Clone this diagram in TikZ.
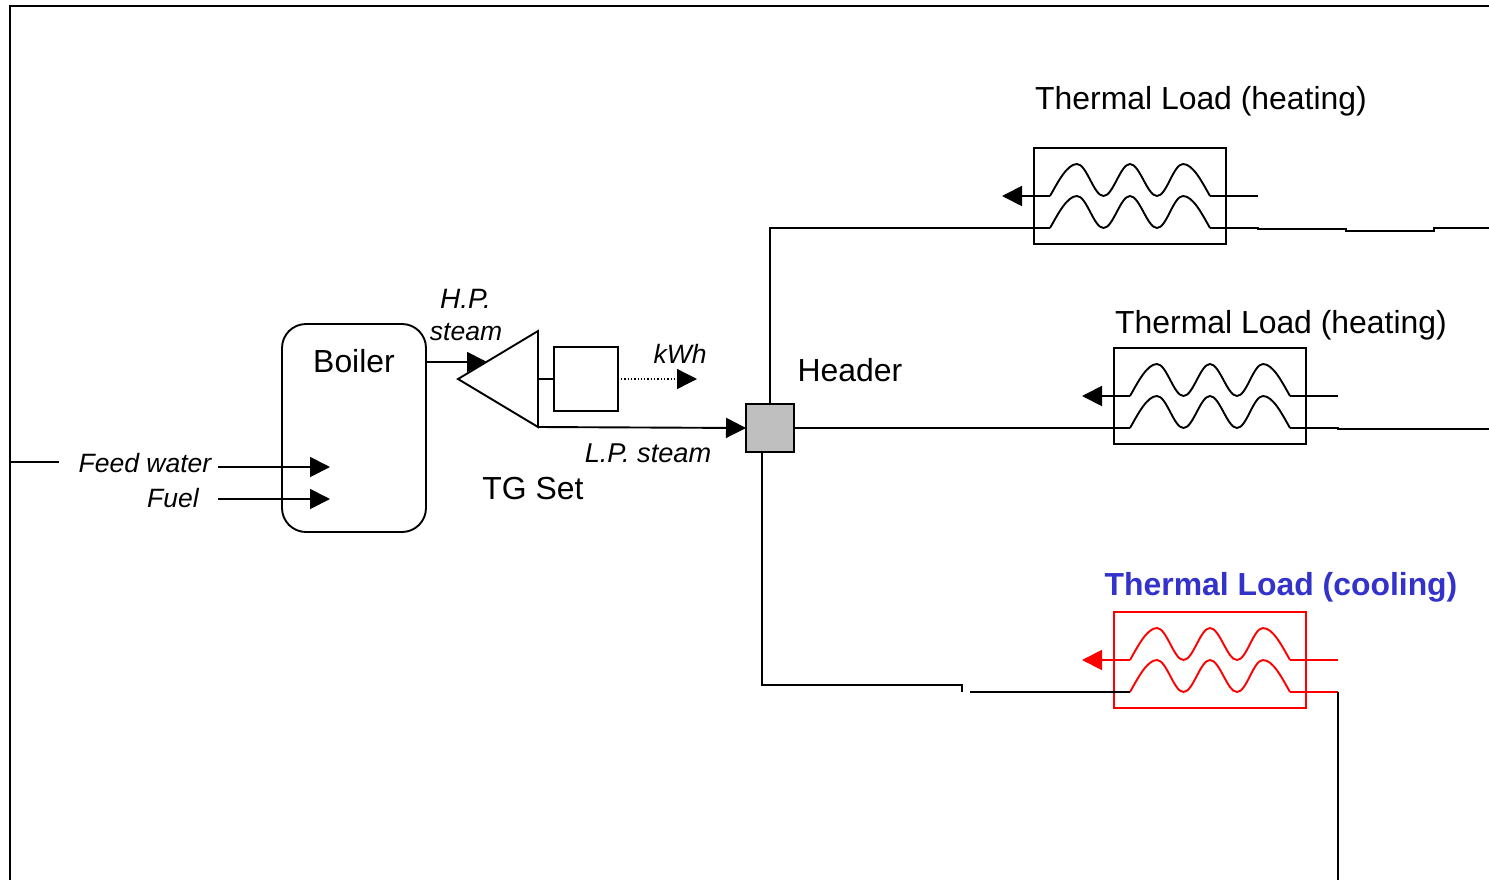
\documentclass[tikz,border=0pt]{standalone}
\usepackage{fontspec}
\setmainfont{Liberation Sans}
\usetikzlibrary{arrows.meta,calc}
\definecolor{loadblue}{RGB}{51,51,204}
\tikzset{
  line/.style={line width=1.9pt,line join=miter},
  flow/.style={line,-{Triangle[length=20pt,width=20pt,sep=0pt]}},
  boxn/.style={draw,line width=1.9pt,inner sep=0pt,outer sep=0pt},
  big/.style={font=\fontsize{31.9}{36}\selectfont,anchor=base,inner sep=0pt},
  small/.style={font=\fontsize{26.5}{30}\itshape\selectfont,anchor=base,inner sep=0pt},
}
% heat exchanger: prefix, x shift, y shift, colour
\newcommand{\hxunit}[4]{%
  \begin{scope}[shift={(#2,#3)},#4]
    \node[boxn,draw=#4,minimum width=192pt,minimum height=96pt] (#1box) at (1130,196) {};
    \coordinate (#1ul) at (1050,196);
    \coordinate (#1ur) at (1210,196);
    \coordinate (#1ll) at (1050,228);
    \coordinate (#1lr) at (1210,228);
    \coordinate (#1ue) at (1258,196);
    \coordinate (#1le) at (1258,228);
    \coordinate (#1tip) at (1002,196);
    \foreach \yy in {196,228}{
      \draw[line,#4] (1050,\yy) .. controls (1058,\yy-14) and (1067,\yy-32) .. (1077,\yy-32)
        .. controls (1086.7,\yy-32) and (1093.8,\yy) .. (1103.5,\yy)
        .. controls (1113.2,\yy) and (1120.3,\yy-32) .. (1130,\yy-32)
        .. controls (1139.7,\yy-32) and (1147.3,\yy) .. (1157,\yy)
        .. controls (1166.7,\yy) and (1173.3,\yy-32) .. (1183,\yy-32)
        .. controls (1193,\yy-32) and (1202,\yy-14) .. (1210,\yy);
    }
    \draw[flow,#4] (#1ul) -- (#1tip);
    \draw[line,#4] (#1ur) -- (#1ue);
  \end{scope}}
\begin{document}
\begin{tikzpicture}[x=1pt,y=-1pt]
\useasboundingbox (0,0) rectangle (1489,879);
% frame
\coordinate (fbl) at (10,880);
\coordinate (ftl) at (10,6);
\coordinate (ftr) at (1490,6);
\draw[line] (fbl) -- (ftl) -- (ftr);
\coordinate (fstubA) at (10,462);
\coordinate (fstubB) at (59,462);
\draw[line] (fstubA) -- (fstubB);
% boiler
\node[boxn,rounded corners=24pt,minimum width=144pt,minimum height=208pt] (boiler) at (354,428) {};
\node[big] (boilert) at (354,372) {Boiler};
% turbine
\coordinate (tt) at (538,331);
\coordinate (tb) at (538,427);
\coordinate (tl) at (458,379);
\coordinate (tr) at (538,379);
\coordinate (hpstart) at (426,362);
\coordinate (hpend) at (487,362);
\draw[flow] (hpstart) -- (hpend);
\draw[line] (tl) -- (tt) -- (tb) -- cycle;
\node[boxn,minimum width=64pt,minimum height=64pt] (gen) at (586,379) {};
\draw[line] (tr) -- (gen.west);
\coordinate (kwhs) at (621,379);
\coordinate (kwhe) at (697,379);
\draw[flow,line width=1.3pt,dotted] (kwhs) -- (kwhe);
% header
\node[boxn,fill=black!25,minimum width=48pt,minimum height=48pt] (hdr) at (770,428) {};
\draw[flow] (tb) -- (hdr.west);
% feed / fuel
\coordinate (feeds) at (218,467);
\coordinate (feede) at (330,467);
\coordinate (fuels) at (218,499);
\coordinate (fuele) at (330,499);
\draw[flow] (feeds) -- (feede);
\draw[flow] (fuels) -- (fuele);
% exchangers
\hxunit{a}{0}{0}{black}
\hxunit{b}{80}{200}{black}
\hxunit{c}{80}{464}{red}
% connections
\draw[line] (hdr.north) -- (770,228) -- (all);
\draw[line] (alr) -- (ale) -- (1258,229) -- (1346,229) -- (1346,231) -- (1434,231) -- (1434,228) -- (1490,228);
\draw[line] (hdr.east) -- (bll);
\draw[line] (blr) -- (ble) -- (1338,429) -- (1490,429);
\coordinate (hdrb) at (762,452);
\draw[line] (hdrb) -- (762,685) -- (962,685) -- (962,692);
\coordinate (cin) at (970,692);
\draw[line] (cin) -- (cll);
\draw[line,red] (clr) -- (cle);
\coordinate (cdown) at (1338,880);
\draw[line] (cle) -- (cdown);
% text
\node[big] (t1) at (1201,109) {Thermal Load (heating)};
\node[big] (t2) at (1281,333) {Thermal Load (heating)};
\node[big,font=\fontsize{31.9}{36}\bfseries\selectfont,text=loadblue] (t3) at (1281,595) {Thermal Load (cooling)};
\node[big] (t4) at (850,381) {Header};
\node[big] (t5) at (533,499) {TG Set};
\node[small] (s1) at (145,472) {Feed water};
\node[small] (s2) at (173,507) {Fuel};
\node[small,font=\fontsize{28}{30}\itshape\selectfont] (s3) at (465.5,308) {H.P.};
\node[small] (s4) at (466,340) {steam};
\node[small] (s5) at (680,363) {kWh};
\node[small,font=\fontsize{27.2}{30}\itshape\selectfont] (s6) at (648,462) {L.P. steam};
\end{tikzpicture}
\end{document}
